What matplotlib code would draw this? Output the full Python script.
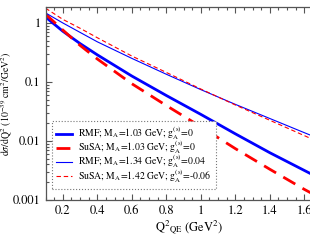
import matplotlib
matplotlib.use("Agg")
import matplotlib.pyplot as plt
from matplotlib.ticker import MultipleLocator, LogLocator, FixedLocator, FixedFormatter, NullFormatter
import numpy as np

plt.rcParams['font.family'] = ['STIXGeneral', 'DejaVu Serif']
plt.rcParams['mathtext.fontset'] = 'stix'

q2 = [0.1, 0.2, 0.3, 0.4, 0.6, 0.8, 1.0, 1.2, 1.4, 1.6, 1.7]
rmf_103 = [1.26, 0.724, 0.447, 0.288, 0.126, 0.0589, 0.0282, 0.0132, 0.00631, 0.00316, 0.00224]
susa_103 = [1.41, 0.759, 0.417, 0.245, 0.0933, 0.0398, 0.0174, 0.00741, 0.00331, 0.00151, 0.00105]
rmf_134 = [1.48, 1.0, 0.692, 0.479, 0.251, 0.135, 0.0741, 0.0417, 0.0240, 0.0138, 0.0105]
susa_142 = [1.78, 1.15, 0.813, 0.562, 0.275, 0.145, 0.0759, 0.0407, 0.0224, 0.0123, 0.00912]

labels = [r"RMF; M$_\mathrm{A}$=1.03 GeV; g$_\mathrm{A}^{\mathrm{(s)}}$=0",
          r"SuSA; M$_\mathrm{A}$=1.03 GeV; g$_\mathrm{A}^{\mathrm{(s)}}$=0",
          r"RMF; M$_\mathrm{A}$=1.34 GeV; g$_\mathrm{A}^{\mathrm{(s)}}$=0.04",
          r"SuSA; M$_\mathrm{A}$=1.42 GeV; g$_\mathrm{A}^{\mathrm{(s)}}$=-0.06"]

fig = plt.figure(figsize=(3.1, 2.4), dpi=100)
ax = fig.add_axes([0.147, 0.167, 0.946, 0.803])

ax.plot(q2, rmf_103, color='#0000ff', lw=2.0, label=labels[0])
ax.plot(q2, susa_103, color='#ff0000', lw=2.0, dashes=(5, 3), label=labels[1])
ax.plot(q2, rmf_134, color='#0000ff', lw=0.8, label=labels[2])
ax.plot(q2, susa_142, color='#ff0000', lw=0.8, dashes=(4, 2.5), label=labels[3])

ax.set_yscale('log')
ax.set_xlim(0.1, 1.8)
ax.set_ylim(0.001, 1.85)

ax.xaxis.set_minor_locator(MultipleLocator(0.05))
ax.set_xticks([0.2, 0.4, 0.6, 0.8, 1.0, 1.2, 1.4, 1.6])
ax.set_xticklabels(['0.2', '0.4', '0.6', '0.8', '1', '1.2', '1.4', '1.6'])
ax.yaxis.set_major_locator(FixedLocator([0.001, 0.01, 0.1, 1]))
ax.yaxis.set_major_formatter(FixedFormatter(['0.001', '0.01', '0.1', '1']))
ax.yaxis.set_minor_locator(LogLocator(base=10, subs=np.arange(2, 10)))
ax.yaxis.set_minor_formatter(NullFormatter())

ax.tick_params(which='both', direction='in', top=True, right=True, labelsize=9, colors='#555555', labelcolor='black', width=0.8)
ax.tick_params(which='major', length=4)
ax.tick_params(which='minor', length=2)
for s in ax.spines.values():
    s.set_color('#555555')
    s.set_linewidth(0.9)

ax.set_xlabel(r"Q$^{2}{}_{\mathrm{QE}}$ (GeV$^2$)", fontsize=9)
ax.set_ylabel(r"d$\sigma$/dQ$^2$ (10$^{-39}$ cm$^2$/GeV$^2$)", fontsize=7)
ax.xaxis.set_label_coords(0.49, -0.095)
ax.yaxis.set_label_coords(-0.105, 0.5)

leg = ax.legend(loc='lower left', bbox_to_anchor=(52/310, 51/240), bbox_transform=fig.transFigure,
                borderaxespad=0, fontsize=7, handlelength=1.6, handletextpad=0.6,
                labelspacing=-0.3, fancybox=False, framealpha=1, borderpad=0.45)
fr = leg.get_frame()
fr.set_linestyle(':')
fr.set_edgecolor('#777777')
fr.set_linewidth(0.8)

fig.savefig('out.png', dpi=100)
